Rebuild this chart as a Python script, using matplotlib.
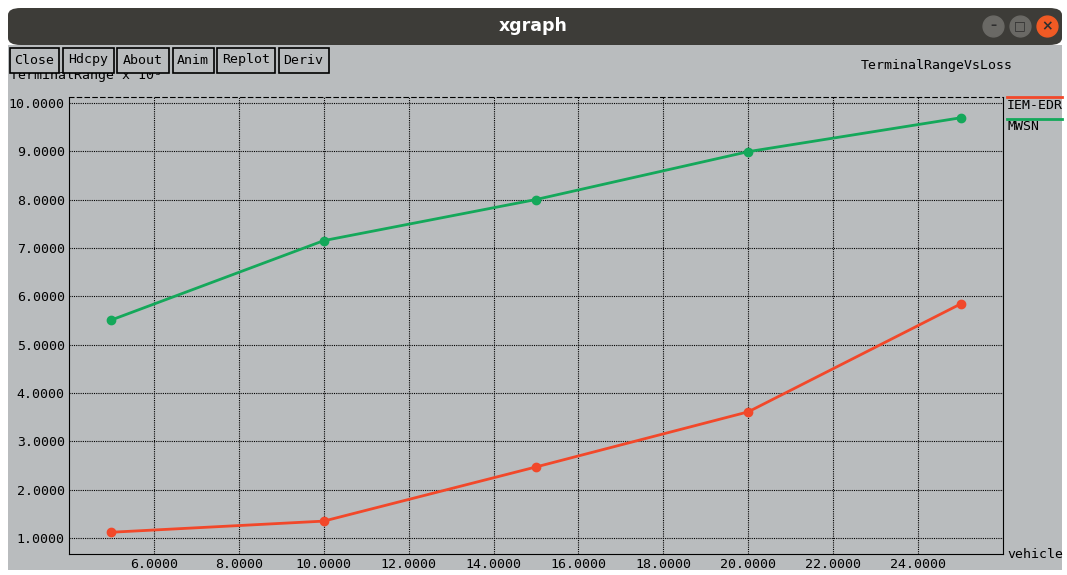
import matplotlib
matplotlib.use("Agg")
from matplotlib import pyplot as plt
from matplotlib.patches import Rectangle, FancyBboxPatch

vehicles = [5, 10, 15, 20, 25]
iem_edr = [1.12, 1.35, 2.47, 3.61, 5.84]
mwsn = [5.51, 7.15, 8.00, 8.99, 9.69]
x_ticks = [6, 8, 10, 12, 14, 16, 18, 20, 22, 24]
y_ticks = [1, 2, 3, 4, 5, 6, 7, 8, 9, 10]
buttons = ["Close", "Hdcpy", "About", "Anim", "Replot", "Deriv"]

W, H = 1067, 575
BG = "#b9bcbe"
RED = "#f2482a"
GREEN = "#14a85a"
MONO = "DejaVu Sans Mono"
FS = 9.5

fig = plt.figure(figsize=(W / 100, H / 100), dpi=100)
fig.patch.set_facecolor("white")

def px(x, y):
    return x / W, 1 - y / H

# window body + title bar
fig.patches.append(Rectangle(px(8, 570), 1054 / W, 525 / H, transform=fig.transFigure,
                             facecolor=BG, edgecolor="none", zorder=0))
fig.patches.append(FancyBboxPatch(px(8, 45), 1054 / W, 37 / H, boxstyle="round,pad=0,rounding_size=0.012",
                                  transform=fig.transFigure, facecolor="#3d3c38", edgecolor="none", zorder=1))
fig.text(533 / W, 1 - 26 / H, "xgraph", color="white", fontsize=12.5, fontweight="bold",
         ha="center", va="center")
for cx, col in [(993, "#6a6965"), (1020, "#6a6965"), (1047, "#f05a24")]:
    fig.lines.append(plt.Line2D([cx / W], [1 - 26 / H], marker="o", markersize=15, color=col,
                                transform=fig.transFigure, zorder=2))
fig.text(993 / W, 1 - 26 / H, "\u2013", color="#2e2e2e", fontsize=9, ha="center", va="center",
         fontweight="bold", zorder=3)
fig.text(1020 / W, 1 - 26 / H, "\u25a1", color="#2e2e2e", fontsize=9, ha="center", va="center", zorder=3)
fig.text(1047 / W, 1 - 26 / H, "\u00d7", color="#2e2e2e", fontsize=10, ha="center", va="center",
         fontweight="bold", zorder=3)

# plot area
left, right, top, bottom = 69, 1003, 97, 554
ax = fig.add_axes([left / W, 1 - bottom / H, (right - left) / W, (bottom - top) / H])
ax.set_zorder(4)
ax.set_facecolor(BG)
ax.set_xlim(4.0, 26.0)
ax.set_ylim(0.67, 10.12)
ax.set_xticks(x_ticks)
ax.set_yticks(y_ticks)
ax.set_xticklabels([f"{v:.4f}" for v in x_ticks], family=MONO, fontsize=FS)
ax.set_yticklabels([f"{v:.4f}" for v in y_ticks], family=MONO, fontsize=FS)
ax.tick_params(length=0, pad=3)
ax.grid(True, color="black", linestyle=(0, (1, 1)), linewidth=0.8)
for s in ax.spines.values():
    s.set_linestyle((0, (1, 1)))
    s.set_linewidth(0.8)
ax.spines["top"].set_linestyle((0, (4, 3)))

ax.plot(vehicles, iem_edr, color=RED, linewidth=2, marker="o", markersize=6, zorder=3)
ax.plot(vehicles, mwsn, color=GREEN, linewidth=2, marker="o", markersize=6, zorder=3)

# axis labels / title
fig.text(10 / W, 1 - 76 / H, "TerminalRange x 10\u00b3", family=MONO, fontsize=FS, va="center", zorder=3)
fig.text(1013 / W, 1 - 66 / H, "TerminalRangeVsLoss", family=MONO, fontsize=FS, ha="right", va="center")
fig.text(1007 / W, 1 - 555 / H, "vehicle", family=MONO, fontsize=FS, va="center")

# legend
for y, col, name in [(97, RED, "IEM-EDR"), (119, GREEN, "MWSN")]:
    fig.lines.append(plt.Line2D([1007 / W, 1062 / W], [1 - y / H] * 2, color=col, linewidth=2,
                                transform=fig.transFigure))
    fig.text(1007 / W, 1 - (y + 8) / H, name, family=MONO, fontsize=FS, va="center")

# buttons
x0 = 10
widths = [49, 51, 52, 41, 58, 50]
for name, w in zip(buttons, widths):
    fig.patches.append(Rectangle(px(x0, 73), w / W, 25 / H, transform=fig.transFigure,
                                 facecolor=BG, edgecolor="black", linewidth=1.2, zorder=5))
    fig.text((x0 + w / 2) / W, 1 - 60 / H, name, family=MONO, fontsize=FS, ha="center",
             va="center", zorder=6)
    x0 += w + 3.5

plt.savefig("out.png", dpi=100)
